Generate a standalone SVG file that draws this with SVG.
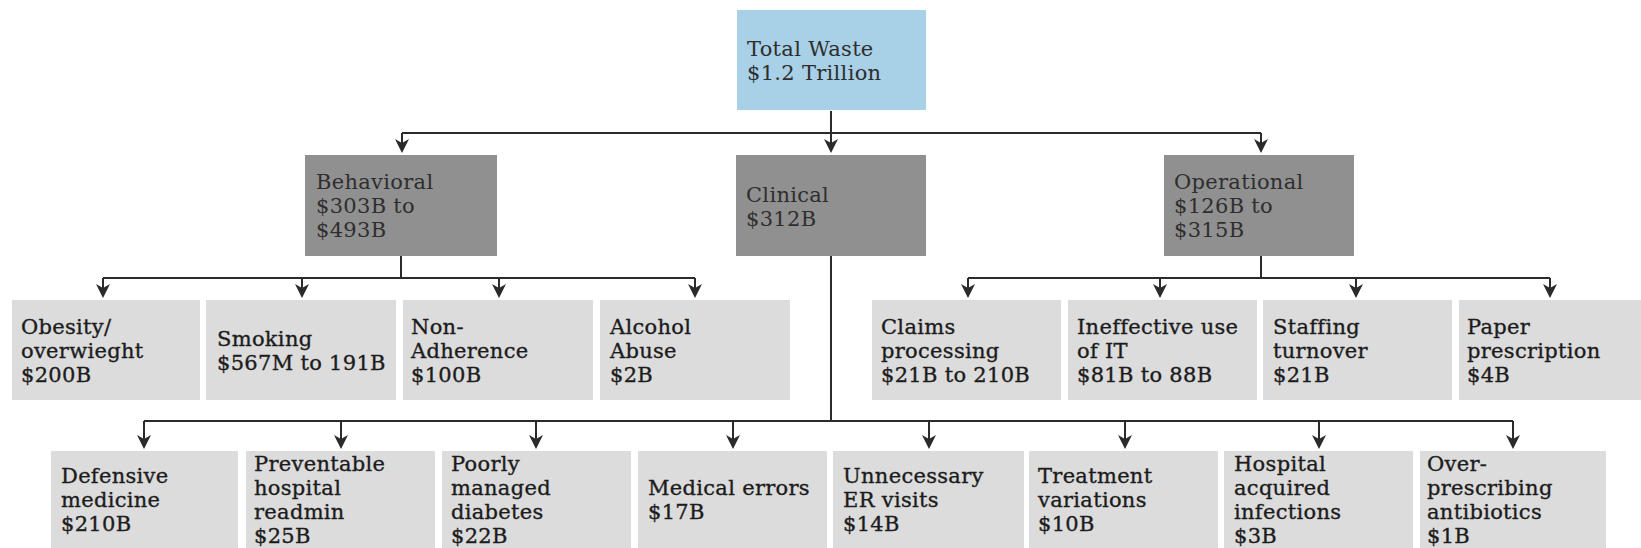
<svg xmlns="http://www.w3.org/2000/svg" width="1641" height="548" viewBox="0 0 1641 548">
<style>
.bg{fill:#ffffff}
.top{fill:#a8d0e6}
.mid{fill:#909090}
.leaf{fill:#dcdcdd}
.t{font-family:"DejaVu Serif","Liberation Serif",serif;font-size:21px;letter-spacing:0.3px}
.tm{fill:#2e2e2e}
.tl{fill:#1c1c1c;stroke:#1c1c1c;stroke-width:0.35}
.c{fill:none;stroke:#2b2b2b;stroke-width:2}
.a{fill:none;stroke:#2b2b2b;stroke-width:2;marker-end:url(#arr)}
</style>
<defs>
<marker id="arr" viewBox="0 0 14 14" refX="10" refY="7" markerWidth="14" markerHeight="14" markerUnits="userSpaceOnUse" orient="auto">
<path d="M0,0 L14,7 L0,14 L4,7 Z" fill="#2b2b2b"/>
</marker>
</defs>
<rect class="bg" x="0" y="0" width="1641" height="548"/>

<g id="connectors">
<path class="c" d="M831,111 V133 M402,133 H1261"/>
<path class="a" d="M402,133 V149"/>
<path class="a" d="M831,133 V149"/>
<path class="a" d="M1261,133 V149"/>
<path class="c" d="M401,256 V278 M103,278 H695"/>
<path class="a" d="M103,278 V294"/>
<path class="a" d="M302,278 V294"/>
<path class="a" d="M499,278 V294"/>
<path class="a" d="M695,278 V294"/>
<path class="c" d="M1261,256 V278 M968,278 H1550"/>
<path class="a" d="M968,278 V294"/>
<path class="a" d="M1160,278 V294"/>
<path class="a" d="M1356,278 V294"/>
<path class="a" d="M1550,278 V294"/>
<path class="c" d="M831,256 V421 M144,421 H1513"/>
<path class="a" d="M144,421 V445"/>
<path class="a" d="M341,421 V445"/>
<path class="a" d="M536,421 V445"/>
<path class="a" d="M733,421 V445"/>
<path class="a" d="M929,421 V445"/>
<path class="a" d="M1125,421 V445"/>
<path class="a" d="M1319,421 V445"/>
<path class="a" d="M1513,421 V445"/>
</g>

<g id="total"><rect class="top" x="737" y="10" width="189" height="100"/>
<text class="t tm" x="747" y="56">Total Waste<tspan x="747" y="80">$1.2 Trillion</tspan></text></g>

<g id="behavioral"><rect class="mid" x="305" y="155" width="192" height="101"/>
<text class="t tm" x="316" y="189">Behavioral<tspan x="316" y="213">$303B to</tspan><tspan x="316" y="237">$493B</tspan></text></g>
<g id="clinical"><rect class="mid" x="736" y="155" width="190" height="101"/>
<text class="t tm" x="746" y="202">Clinical<tspan x="746" y="226">$312B</tspan></text></g>
<g id="operational"><rect class="mid" x="1164" y="155" width="190" height="101"/>
<text class="t tm" x="1174" y="189">Operational<tspan x="1174" y="213">$126B to</tspan><tspan x="1174" y="237">$315B</tspan></text></g>

<g id="obesity"><rect class="leaf" x="12" y="300" width="188" height="100"/>
<text class="t tl" x="21" y="334">Obesity/<tspan x="21" y="358">overwieght</tspan><tspan x="21" y="382">$200B</tspan></text></g>
<g id="smoking"><rect class="leaf" x="206" y="300" width="190" height="100"/>
<text class="t tl" x="217" y="346">Smoking<tspan x="217" y="370">$567M to 191B</tspan></text></g>
<g id="nonadherence"><rect class="leaf" x="403" y="300" width="190" height="100"/>
<text class="t tl" x="411" y="334">Non-<tspan x="411" y="358">Adherence</tspan><tspan x="411" y="382">$100B</tspan></text></g>
<g id="alcohol"><rect class="leaf" x="600" y="300" width="190" height="100"/>
<text class="t tl" x="610" y="334">Alcohol<tspan x="610" y="358">Abuse</tspan><tspan x="610" y="382">$2B</tspan></text></g>
<g id="claims"><rect class="leaf" x="872" y="300" width="189" height="100"/>
<text class="t tl" x="881" y="334">Claims<tspan x="881" y="358">processing</tspan><tspan x="881" y="382">$21B to 210B</tspan></text></g>
<g id="ineffective"><rect class="leaf" x="1068" y="300" width="189" height="100"/>
<text class="t tl" x="1077" y="334">Ineffective use<tspan x="1077" y="358">of IT</tspan><tspan x="1077" y="382">$81B to 88B</tspan></text></g>
<g id="staffing"><rect class="leaf" x="1263" y="300" width="189" height="100"/>
<text class="t tl" x="1273" y="334">Staffing<tspan x="1273" y="358">turnover</tspan><tspan x="1273" y="382">$21B</tspan></text></g>
<g id="paper"><rect class="leaf" x="1459" y="300" width="185" height="100"/>
<text class="t tl" x="1467" y="334">Paper<tspan x="1467" y="358">prescription</tspan><tspan x="1467" y="382">$4B</tspan></text></g>

<g id="defensive"><rect class="leaf" x="51" y="451" width="187" height="97"/>
<text class="t tl" x="61" y="483">Defensive<tspan x="61" y="507">medicine</tspan><tspan x="61" y="531">$210B</tspan></text></g>
<g id="preventable"><rect class="leaf" x="246" y="451" width="189" height="97"/>
<text class="t tl" x="254" y="471">Preventable<tspan x="254" y="495">hospital</tspan><tspan x="254" y="519">readmin</tspan><tspan x="254" y="543">$25B</tspan></text></g>
<g id="poorly"><rect class="leaf" x="442" y="451" width="189" height="97"/>
<text class="t tl" x="451" y="471">Poorly<tspan x="451" y="495">managed</tspan><tspan x="451" y="519">diabetes</tspan><tspan x="451" y="543">$22B</tspan></text></g>
<g id="medical"><rect class="leaf" x="638" y="451" width="189" height="97"/>
<text class="t tl" x="648" y="495">Medical errors<tspan x="648" y="519">$17B</tspan></text></g>
<g id="unnecessary"><rect class="leaf" x="833" y="451" width="191" height="97"/>
<text class="t tl" x="843" y="483">Unnecessary<tspan x="843" y="507">ER visits</tspan><tspan x="843" y="531">$14B</tspan></text></g>
<g id="treatment"><rect class="leaf" x="1029" y="451" width="189" height="97"/>
<text class="t tl" x="1038" y="483">Treatment<tspan x="1038" y="507">variations</tspan><tspan x="1038" y="531">$10B</tspan></text></g>
<g id="hospital"><rect class="leaf" x="1224" y="451" width="189" height="97"/>
<text class="t tl" x="1234" y="471">Hospital<tspan x="1234" y="495">acquired</tspan><tspan x="1234" y="519">infections</tspan><tspan x="1234" y="543">$3B</tspan></text></g>
<g id="overprescribing"><rect class="leaf" x="1420" y="451" width="186" height="97"/>
<text class="t tl" x="1427" y="471">Over-<tspan x="1427" y="495">prescribing</tspan><tspan x="1427" y="519">antibiotics</tspan><tspan x="1427" y="543">$1B</tspan></text></g>
</svg>
